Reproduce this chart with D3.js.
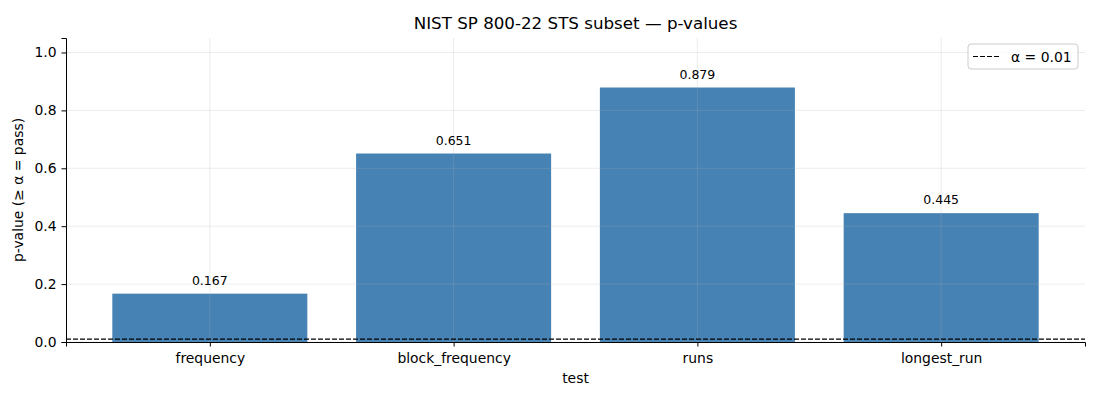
<!DOCTYPE html>
<html lang="en">
<head>
<meta charset="UTF-8">
<title>NIST SP 800-22 STS subset — p-values</title>
<script src="https://d3js.org/d3.v7.min.js"></script>
<style>
  body { margin: 0; background: #fff; }
  svg { font-family: "DejaVu Sans", sans-serif; }
</style>
</head>
<body>
<svg width="1100" height="400"></svg>
<script>
// Data
const tests = ["frequency", "block_frequency", "runs", "longest_run"];
const pValues = [0.167, 0.651, 0.879, 0.445];
const alpha = 0.01;
const yTicks = [0.0, 0.2, 0.4, 0.6, 0.8, 1.0];

const svg = d3.select("svg");
const margin = { top: 38, right: 15, bottom: 58, left: 66 };
const width = 1100 - margin.left - margin.right;
const height = 400 - margin.top - margin.bottom;

const g = svg.append("g")
    .attr("transform", `translate(${margin.left},${margin.top})`);

// Scales: linear index scale so bar width = 0.8 like matplotlib
const xScale = d3.scaleLinear()
    .domain([-0.59, tests.length - 1 + 0.59])
    .range([0, width]);
const yScale = d3.scaleLinear()
    .domain([0, 1.05])
    .range([height, 0]);
const barW = xScale(0.8) - xScale(0);

// Bars
g.selectAll("rect.bar")
    .data(pValues)
    .enter()
    .append("rect")
        .attr("class", "bar")
        .attr("x", (d, i) => xScale(i) - barW / 2)
        .attr("y", d => yScale(d))
        .attr("width", barW)
        .attr("height", d => yScale(0) - yScale(d))
        .attr("fill", "#4682b4");

// Grid (drawn over bars, semi-transparent)
const grid = g.append("g").attr("stroke", "#b0b0b0").attr("stroke-opacity", 0.3).attr("stroke-width", 0.8);
grid.selectAll("line.h")
    .data(yTicks)
    .enter()
    .append("line")
        .attr("x1", 0).attr("x2", width)
        .attr("y1", d => yScale(d)).attr("y2", d => yScale(d));
grid.selectAll("line.v")
    .data(tests)
    .enter()
    .append("line")
        .attr("y1", 0).attr("y2", height)
        .attr("x1", (d, i) => xScale(i)).attr("x2", (d, i) => xScale(i));

// Alpha threshold line
g.append("line")
    .attr("x1", 0).attr("x2", width)
    .attr("y1", yScale(alpha)).attr("y2", yScale(alpha))
    .attr("stroke", "black")
    .attr("stroke-width", 1.1)
    .attr("stroke-dasharray", "5,2");

// Value labels
g.selectAll("text.val")
    .data(pValues)
    .enter()
    .append("text")
        .attr("x", (d, i) => xScale(i))
        .attr("y", d => yScale(d) - 9)
        .attr("text-anchor", "middle")
        .attr("font-size", "12.5px")
        .text(d => d.toFixed(3));

// Axes
const xAxis = g.append("g")
    .attr("transform", `translate(0,${height})`)
    .call(d3.axisBottom(xScale).tickValues(d3.range(tests.length)).tickFormat(i => tests[i]).tickSizeOuter(0).tickSize(4.5).tickPadding(5));
const yAxis = g.append("g")
    .call(d3.axisLeft(yScale).tickValues(yTicks).tickFormat(d3.format(".1f")).tickSizeOuter(0).tickSize(4.5).tickPadding(5));
[xAxis, yAxis].forEach(a => {
    a.selectAll("text").attr("font-size", "13.9px").attr("fill", "black").attr("font-family", "DejaVu Sans");
    a.select(".domain").attr("stroke", "black").attr("stroke-width", 1);
});
xAxis.selectAll("text").attr("dy", "0.85em");

// Labels
svg.append("text")
    .attr("x", margin.left + width / 2)
    .attr("y", 29)
    .attr("text-anchor", "middle")
    .attr("font-size", "16.7px")
    .text("NIST SP 800-22 STS subset — p-values");

g.append("text")
    .attr("x", width / 2)
    .attr("y", height + 41)
    .attr("text-anchor", "middle")
    .attr("font-size", "13.9px")
    .text("test");

g.append("text")
    .attr("transform", "rotate(-90)")
    .attr("x", -height / 2)
    .attr("y", -43)
    .attr("text-anchor", "middle")
    .attr("font-size", "13.9px")
    .text("p-value (≥ α = pass)");

// Legend
const lg = svg.append("g").attr("transform", "translate(968,44)");
lg.append("rect")
    .attr("width", 110).attr("height", 25).attr("rx", 3)
    .attr("fill", "white").attr("fill-opacity", 0.8)
    .attr("stroke", "#cccccc");
lg.append("line")
    .attr("x1", 5).attr("x2", 33).attr("y1", 12.5).attr("y2", 12.5)
    .attr("stroke", "black").attr("stroke-width", 1.1).attr("stroke-dasharray", "5,2");
lg.append("text")
    .attr("x", 43).attr("y", 17.5)
    .attr("font-size", "13.9px")
    .text("α = 0.01");
</script>
</body>
</html>
